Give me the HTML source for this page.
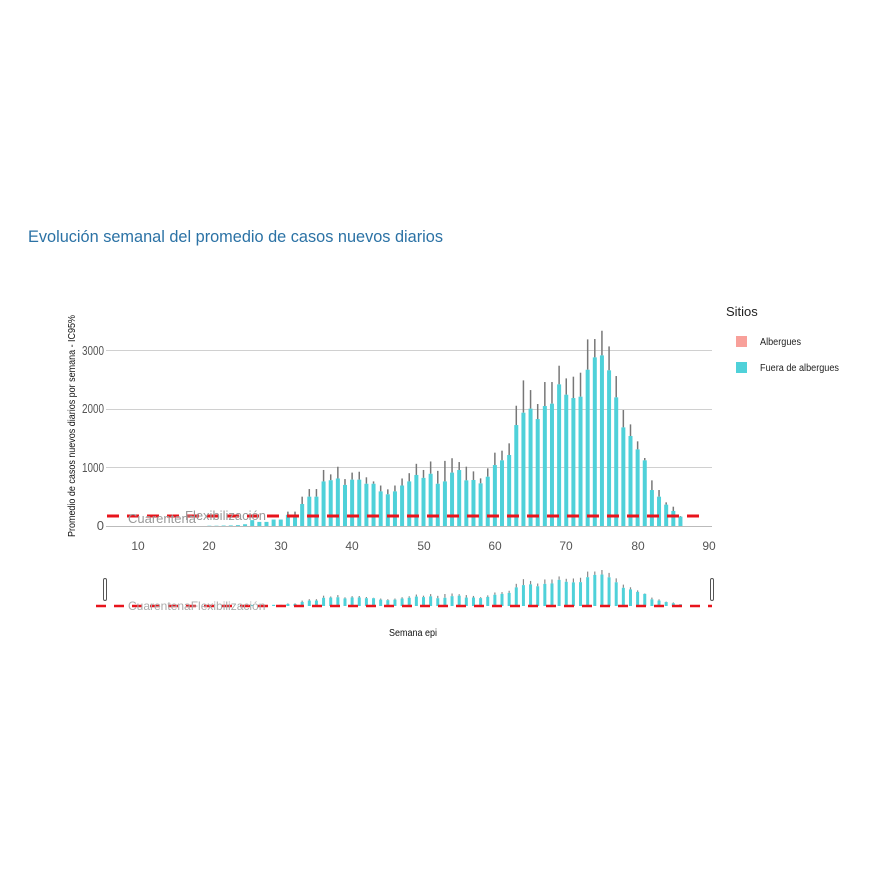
<!DOCTYPE html>
<html><head><meta charset="utf-8"><style>
body{margin:0;background:#fff;}
svg{display:block;font-family:"Liberation Sans",sans-serif;}
</style></head><body>
<svg id="s" width="870" height="870" viewBox="0 0 870 870">
<text x="28" y="242" font-size="17" fill="#2b72a5" textLength="415" lengthAdjust="spacingAndGlyphs">Evolución semanal del promedio de casos nuevos diarios</text>
<g stroke="#d0d0d0" stroke-width="1">
<line x1="106" x2="712" y1="526.5" y2="526.5" stroke="#bbb"/>
<line x1="106" x2="712" y1="467.5" y2="467.5"/>
<line x1="106" x2="712" y1="409.5" y2="409.5"/>
<line x1="106" x2="712" y1="350.5" y2="350.5"/>
</g>
<g font-size="13" fill="#555" text-anchor="end">
<text x="104" y="530">0</text><text x="104" y="472" textLength="22" lengthAdjust="spacingAndGlyphs">1000</text><text x="104" y="413" textLength="22" lengthAdjust="spacingAndGlyphs">2000</text><text x="104" y="355" textLength="22" lengthAdjust="spacingAndGlyphs">3000</text>
</g>
<g font-size="12" fill="#555" text-anchor="middle">
<text x="138" y="550">10</text><text x="209" y="550">20</text><text x="281" y="550">30</text><text x="352" y="550">40</text><text x="424" y="550">50</text><text x="495" y="550">60</text><text x="566" y="550">70</text><text x="638" y="550">80</text><text x="709" y="550">90</text>
</g>
<text transform="translate(75,426) rotate(-90)" font-size="10" text-anchor="middle" fill="#111" textLength="222" lengthAdjust="spacingAndGlyphs">Promedio de casos nuevos diarios por semana - IC95%</text>
<g id="bars"></g>
<g id="mini"></g>
<line x1="107" x2="706" y1="516" y2="516" stroke="#e8141c" stroke-width="3" stroke-dasharray="12,8"/>
<text x="128" y="523" font-size="13" fill="#999">Cuarentena</text>
<text x="185" y="520" font-size="13" fill="#999">Flexibilización</text>
<line x1="96" x2="712" y1="606" y2="606" stroke="#e8141c" stroke-width="2.5" stroke-dasharray="10,8"/>
<text x="128" y="610" font-size="12" fill="#aaa">CuarentenaFlexibilización</text>
<rect x="103.5" y="578.5" width="3" height="22" rx="1.5" fill="#fff" stroke="#555"/>
<rect x="710.5" y="578.5" width="3" height="22" rx="1.5" fill="#fff" stroke="#555"/>
<text x="413" y="636" font-size="10" fill="#111" text-anchor="middle" textLength="48" lengthAdjust="spacingAndGlyphs">Semana epi</text>
<text x="726" y="316" font-size="13" fill="#222">Sitios</text>
<rect x="736" y="336" width="11" height="11" fill="#f8a09a"/>
<text x="760" y="345" font-size="10" fill="#222" textLength="41" lengthAdjust="spacingAndGlyphs">Albergues</text>
<rect x="736" y="362" width="11" height="11" fill="#4fd1d9"/>
<text x="760" y="371" font-size="10" fill="#222" textLength="79" lengthAdjust="spacingAndGlyphs">Fuera de albergues</text>
</svg>
<script>
var d={20:5,21:5,22:8,23:10,24:15,25:30,26:100,27:70,28:70,29:110,30:110,31:[190,245],32:[190,245],33:[375,500],34:[500,630],35:[500,630],36:[760,955],37:[780,880],38:[810,1010],39:[700,800],40:[790,910],41:[790,925],42:[720,830],43:[720,760],44:[590,690],45:[540,625],46:[590,690],47:[690,810],48:[760,900],49:[870,1060],50:[820,955],51:[890,1100],52:[720,940],53:[760,1110],54:[910,1155],55:[954,1090],56:[778,1011],57:[784,931],58:[727,812],59:[840,983],60:[1039,1250],61:[1119,1284],62:[1210,1409],63:[1721,2050],64:[1931,2482],65:[2000,2317],66:[1823,2079],67:[2045,2454],68:[2085,2454],69:[2414,2732],70:[2238,2516],71:[2181,2545],72:[2204,2613],73:[2664,3181],74:[2874,3187],75:[2908,3328],76:[2653,3061],77:[2193,2556],78:[1681,1977],79:[1534,1732],80:[1306,1443],81:[1119,1159],82:[613,778],83:[500,613],84:[364,403],85:[256,329],86:[159,170]};
var ns="http://www.w3.org/2000/svg",g=document.getElementById('bars'),m=document.getElementById('mini');
function el(p,t,a){var e=document.createElementNS(ns,t);for(var k in a)e.setAttribute(k,a[k]);p.appendChild(e);}
for(var w in d){var v=d[w],val=Array.isArray(v)?v[0]:v,ub=Array.isArray(v)?v[1]:v;
var x=138+(w-10)*7.1375;
var yv=526-val*0.05867,yu=526-ub*0.05867;
if(ub>val)el(g,'line',{x1:x,x2:x,y1:yv,y2:yu,stroke:'#777','stroke-width':1.5});
el(g,'rect',{x:x-2,y:yv,width:4,height:526-yv,fill:'#4fd1d9'});
var k=36/3328,my=606-val*k,mu=606-ub*k;
if(ub>val)el(m,'line',{x1:x,x2:x,y1:my,y2:mu,stroke:'#888','stroke-width':1.2});
el(m,'rect',{x:x-1.5,y:my,width:3,height:606-my,fill:'#4fd1d9'});}
</script>
</body></html>
